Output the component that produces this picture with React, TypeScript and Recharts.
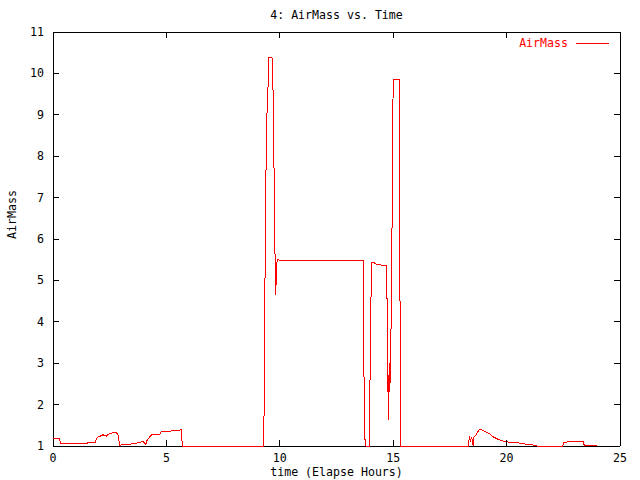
import { LineChart, Line, XAxis, YAxis, CartesianGrid, Legend } from "recharts"

// elapsed hours
const hours = [
  0, 0.3, 0.32, 0.9, 1.5, 1.52, 1.85, 1.95, 2.05, 2.2, 2.36, 2.5, 2.8, 2.87, 2.94,
  3.16, 3.5, 3.68, 3.97, 4.09, 4.15, 4.34, 4.49, 4.72, 4.78, 5.07, 5.29, 5.45, 5.66, 5.7,
  9.3, 9.31, 9.37, 9.41, 9.49, 9.51, 9.68, 9.72, 9.78, 9.81, 9.83, 9.85, 9.88, 9.95, 10.0,
  13.68, 13.7, 13.74, 13.8, 13.94, 13.97, 14.01, 14.06, 14.15, 14.27, 14.71, 14.73, 14.76,
  14.8, 14.82, 14.85, 14.88, 14.93, 14.97, 15.0, 15.26, 15.29, 15.34,
  18.33, 18.35, 18.41, 18.46, 18.5, 18.53, 18.56, 18.65, 18.79, 18.85, 19.04, 19.26, 19.41,
  19.63, 19.85, 20.0, 20.44, 20.81, 20.95, 21.32, 21.34,
  22.48, 22.5, 22.72, 22.94, 23.38, 23.42, 23.97,
]

const airmass = [
  1.17, 1.17, 1.05, 1.06, 1.06, 1.08, 1.08, 1.21, 1.23, 1.27, 1.24, 1.31, 1.32, 1.27, 1.02,
  1.04, 1.05, 1.07, 1.11, 1.04, 1.14, 1.27, 1.28, 1.29, 1.36, 1.35, 1.37, 1.38, 1.39, 1.0,
  1.0, 2.77, 6.34, 8.67, 9.8, 10.39, 10.37, 8.92, 6.06, 4.65, 5.2, 4.9, 5.49, 5.5, 5.47,
  5.47, 3.4, 1.22, 1.0, 1.0, 2.15, 4.33, 5.43, 5.43, 5.38, 5.36, 4.45, 2.55,
  1.63, 3.0, 2.3, 3.0, 4.77, 8.15, 9.86, 9.86, 5.43, 1.0,
  1.0, 1.24, 1.14, 1.22, 1.08, 1.0, 1.22, 1.27, 1.39, 1.4, 1.35, 1.29, 1.22,
  1.16, 1.12, 1.1, 1.08, 1.05, 1.03, 1.02, 1.0,
  1.0, 1.08, 1.1, 1.12, 1.12, 1.02, 1.02,
]

const xTicks = [0, 5, 10, 15, 20, 25]
const yTicks = [1, 2, 3, 4, 5, 6, 7, 8, 9, 10, 11]

const data = hours.map((t, i) => ({ t, airmass: airmass[i] }))

const W = 640
const H = 480
const LEFT = 53
const RIGHT = 620
const TOP = 32
const BOTTOM = 446
const FONT = "'DejaVu Sans Mono', monospace"
const FS = 11.6

const XTick = ({ x, payload }: any) => (
  <g>
    <line x1={x} x2={x} y1={BOTTOM} y2={BOTTOM - 6} stroke="#000" />
    <line x1={x} x2={x} y1={TOP} y2={TOP + 6} stroke="#000" />
    <text x={x} y={BOTTOM + 12} textAnchor="middle" dominantBaseline="central" fontFamily={FONT} fontSize={FS} fill="#000">
      {payload.value}
    </text>
  </g>
)

const YTick = ({ y, payload }: any) => (
  <g>
    <line x1={LEFT} x2={LEFT + 6} y1={y} y2={y} stroke="#000" />
    <line x1={RIGHT} x2={RIGHT - 6} y1={y} y2={y} stroke="#000" />
    <text x={LEFT - 9} y={y} textAnchor="end" dominantBaseline="central" fontFamily={FONT} fontSize={FS} fill="#000">
      {payload.value}
    </text>
  </g>
)

const LegendBox = () => (
  <div style={{ display: "flex", alignItems: "center", justifyContent: "flex-end", fontFamily: FONT, fontSize: FS, color: "#ff0000" }}>
    <span>AirMass</span>
    <svg width={42} height={10}>
      <line x1={8} x2={41} y1={5} y2={5} stroke="#ff0000" />
    </svg>
  </div>
)

export default function App() {
  return (
    <div style={{ position: "absolute", left: 0, top: 0, width: W, height: H, background: "#fff", shapeRendering: "crispEdges" }}>
      <div
        style={{
          position: "absolute",
          left: LEFT,
          width: RIGHT - LEFT,
          top: 8,
          textAlign: "center",
          fontFamily: FONT,
          fontSize: FS,
        }}
      >
        4: AirMass vs. Time
      </div>
      <LineChart width={W} height={H} data={data} margin={{ top: TOP, right: W - RIGHT, bottom: H - BOTTOM - 30, left: LEFT - 40 }}>
        {/* plot frame, drawn behind the series */}
        <CartesianGrid stroke="#000" horizontalPoints={[TOP, BOTTOM]} verticalPoints={[LEFT, RIGHT]} />
        <XAxis
          dataKey="t"
          type="number"
          domain={[0, 25]}
          ticks={xTicks}
          height={30}
          axisLine={false}
          tickLine={false}
          tick={<XTick />}
          label={{ value: "time (Elapse Hours)", position: "insideBottom", offset: 0, fontFamily: FONT, fontSize: FS, fill: "#000" }}
        />
        <YAxis
          type="number"
          domain={[1, 11]}
          ticks={yTicks}
          width={40}
          axisLine={false}
          tickLine={false}
          tick={<YTick />}
          label={{ value: "AirMass", angle: -90, position: "insideLeft", offset: 0, fontFamily: FONT, fontSize: FS, fill: "#000", dx: -1 }}
        />
        <Legend
          verticalAlign="middle"
          align="center"
          content={<LegendBox />}
          wrapperStyle={{ left: 480, top: 36, width: 130 }}
        />
        <Line
          type="linear"
          dataKey="airmass"
          name="AirMass"
          stroke="#ff0000"
          strokeWidth={1}
          dot={false}
          isAnimationActive={false}
        />
      </LineChart>
    </div>
  )
}
